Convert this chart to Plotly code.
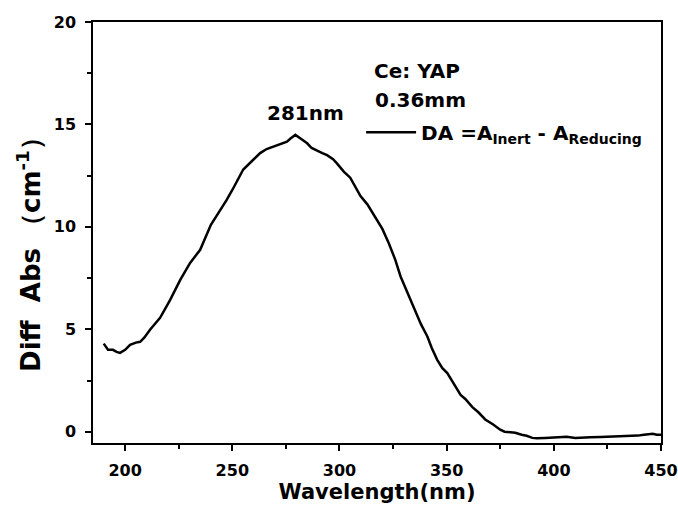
import plotly.graph_objects as go

wavelength = [190, 192, 194.3, 196, 197.6, 200, 202.3, 205, 207, 209, 211.6, 216.3, 221, 225.7,
              230.3, 235, 240, 245, 247.3, 250, 255.1, 260, 263, 266, 270.8, 275.5, 277, 279.4,
              282, 284.9, 287, 290.3, 292, 294.2, 297, 298.8, 302, 305, 309.8, 313, 317.6, 320,
              323, 326, 328.5, 332, 335.5, 338, 341, 343, 345.6, 348, 350.3, 353, 356.5, 358.7,
              362, 364.8, 368, 371.7, 375, 377, 380, 382, 385, 387.3, 390, 392, 396, 400, 403,
              406, 410, 413, 417, 421.9, 426, 430.6, 435, 439.2, 442, 446.2, 448, 450]
diff_abs = [4.3, 4.0, 4.0, 3.9, 3.85, 4.0, 4.24, 4.35, 4.39, 4.6, 4.98, 5.56, 6.44, 7.41,
            8.24, 8.88, 10.1, 10.9, 11.3, 11.8, 12.8, 13.3, 13.6, 13.8, 14.0, 14.16, 14.3, 14.49,
            14.3, 14.08, 13.85, 13.67, 13.6, 13.5, 13.3, 13.1, 12.7, 12.4, 11.5, 11.1, 10.34, 9.9,
            9.2, 8.4, 7.58, 6.7, 5.79, 5.25, 4.65, 4.1, 3.51, 3.1, 2.86, 2.4, 1.8, 1.6,
            1.2, 0.95, 0.6, 0.35, 0.1, 0.0, -0.05, -0.05, -0.15, -0.2, -0.3, -0.32, -0.3, -0.28, -0.27,
            -0.25, -0.3, -0.3, -0.27, -0.26, -0.25, -0.23, -0.22, -0.19, -0.15, -0.1, -0.15, -0.15]

series_name = "DA =A<sub>Inert</sub> - A<sub>Reducing</sub>"
peak_label = "281nm"
sample_label = "Ce: YAP"
thickness_label = "0.36mm"
y_title = "Diff  Abs （cm<sup>-1</sup>）"
x_title = "Wavelength(nm)"

FONT = "DejaVu Sans"

fig = go.Figure()
fig.add_trace(go.Scatter(x=wavelength, y=diff_abs, mode="lines", name=series_name,
                         line=dict(color="black", width=2.5)))

axis_common = dict(showline=True, linecolor="black", linewidth=1.5, mirror=True,
                   ticks="outside", tickcolor="black", tickwidth=1.5, ticklen=6,
                   showgrid=False, zeroline=False, automargin=False,
                   tickfont=dict(family=FONT, size=16, color="black", weight="bold"))

fig.update_xaxes(range=[185, 450], dtick=50, tick0=0, ticklabelstandoff=6,
                 minor=dict(ticks="outside", ticklen=4, dtick=25, tick0=0, tickcolor="black", tickwidth=1.5),
                 title=dict(text="<b>" + x_title + "</b>", font=dict(family=FONT, size=21, color="black"), standoff=1),
                 **axis_common)
fig.update_yaxes(range=[-0.55, 20], dtick=5, tick0=0, ticklabelstandoff=6,
                 minor=dict(ticks="outside", ticklen=4, dtick=2.5, tick0=0, tickcolor="black", tickwidth=1.5),
                 **axis_common)

fig.add_annotation(xref="paper", yref="paper", x=-0.113, y=0.463, textangle=-90,
                   xanchor="center", yanchor="middle", showarrow=False,
                   text="<b>" + y_title + "</b>", font=dict(family=FONT, size=26, color="black"))
fig.add_annotation(x=281, y=14.5, xshift=7, yshift=8, text="<b>" + peak_label + "</b>", showarrow=False,
                   xanchor="center", yanchor="bottom", font=dict(family=FONT, size=20, color="black"))
fig.add_annotation(xref="paper", yref="paper", x=0.57, y=0.884, xanchor="center", yanchor="middle",
                   text="<b>" + sample_label + "</b>",
                   showarrow=False, font=dict(family=FONT, size=20, color="black"))
fig.add_annotation(xref="paper", yref="paper", x=0.576, y=0.815, xanchor="center", yanchor="middle",
                   text="<b>" + thickness_label + "</b>",
                   showarrow=False, font=dict(family=FONT, size=20, color="black"))

fig.update_layout(
    width=678, height=506,
    margin=dict(l=93, r=17, t=22, b=63, autoexpand=False),
    paper_bgcolor="white", plot_bgcolor="white",
    showlegend=True,
    legend=dict(x=0.472, y=0.738, xanchor="left", yanchor="middle", bgcolor="rgba(0,0,0,0)",
                font=dict(family=FONT, size=20, color="black", weight="bold"), itemwidth=50),
)

fig.write_html("out.html")
